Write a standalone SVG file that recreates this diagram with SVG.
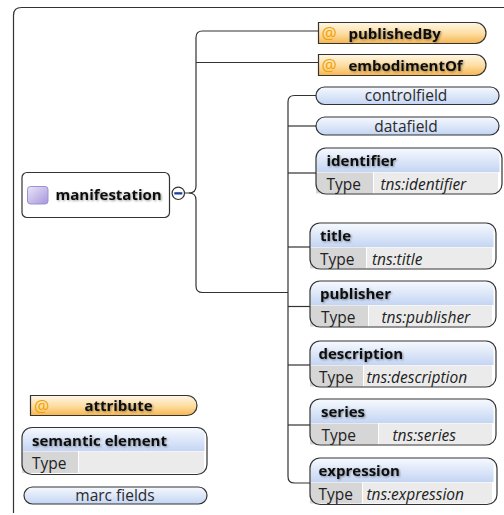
<svg xmlns="http://www.w3.org/2000/svg" width="504" height="515" viewBox="0 0 504 515">
<defs>
  <linearGradient id="gBlue" x1="0" y1="0" x2="0" y2="1">
    <stop offset="0" stop-color="#f6f9fe"/>
    <stop offset="1" stop-color="#c4d5f3"/>
  </linearGradient>
  <linearGradient id="gOr" x1="0" y1="0" x2="0" y2="1">
    <stop offset="0" stop-color="#fff7e6"/>
    <stop offset="0.55" stop-color="#fddc9e"/>
    <stop offset="1" stop-color="#f5b651"/>
  </linearGradient>
  <linearGradient id="gPur" x1="0" y1="0" x2="1" y2="1">
    <stop offset="0" stop-color="#ebe6f9"/>
    <stop offset="1" stop-color="#a595da"/>
  </linearGradient>
  <filter id="ts" x="-10%" y="-40%" width="125%" height="190%">
    <feGaussianBlur in="SourceAlpha" stdDeviation="1.1"/>
    <feOffset dx="0.8" dy="1.2"/>
    <feComponentTransfer><feFuncA type="linear" slope="0.4"/></feComponentTransfer>
    <feMerge><feMergeNode/><feMergeNode in="SourceGraphic"/></feMerge>
  </filter>
</defs>
<style>
  .ln{fill:none;stroke:#333;stroke-width:1.2}
  .bd{fill:none;stroke:#333;stroke-width:1.2}
  .hdr{fill:url(#gBlue)}
  .pill{fill:url(#gBlue);stroke:#333;stroke-width:1.2}
  .attr{fill:url(#gOr);stroke:#333;stroke-width:1.2}
  .tc{fill:#d6d6d6}
  .vc{fill:#ebebeb}
  .b{font-family:"Open Sans",sans-serif;font-weight:bold;font-size:14.5px;fill:#111;filter:url(#ts)}
  .r{font-family:"Open Sans",sans-serif;font-size:15.5px;fill:#222}
  .i{font-family:"Open Sans",sans-serif;font-size:15.5px;font-style:italic;fill:#222}
  .p{font-family:"Open Sans",sans-serif;font-size:15.5px;fill:#2a2a2a;text-anchor:middle}
  .at{font-family:"Open Sans",sans-serif;font-size:17px;fill:#f0a000}
</style>

<!-- frame -->
<path class="ln" d="M13.5,513 V15.5 Q13.5,7.5 21.5,7.5 H504"/>

<g id="connectors">
  <path class="ln" d="M184.5,193 H189 Q196,193 196,186 V37.5 Q196,31 202.5,31 H318.5"/>
  <path class="ln" d="M196,62.5 H318.5"/>
  <path class="ln" d="M189,193 Q196,193 196,200 V286 Q196,292.5 202.5,292.5 H288"/>
  <path class="ln" d="M316,95.5 H294.5 Q288,95.5 288,102 V476.5 Q288,483 294.5,483 H310"/>
  <path class="ln" d="M288,126 H316"/>
  <path class="ln" d="M288,173 H316"/>
  <path class="ln" d="M288,247 H310"/>
  <path class="ln" d="M288,306.5 H310"/>
  <path class="ln" d="M288,365 H310"/>
  <path class="ln" d="M288,425 H310"/>
</g>

<g id="manifestation">
  <rect x="22" y="172.5" width="147.5" height="45" rx="5" fill="#fff" stroke="#333" stroke-width="1.2"/>
  <rect x="27.5" y="186.5" width="20.5" height="17.5" rx="3" fill="url(#gPur)" stroke="#9d8fd6" stroke-width="1"/>
  <text class="b" x="55.5" y="199.5" style="font-size:15px">manifestation</text>
  <circle cx="178.3" cy="193.3" r="6.2" fill="#fff" stroke="#333" stroke-width="1.2"/>
  <rect x="174.3" y="192.2" width="8" height="2.3" fill="#1f3d9c"/>
</g>

<g id="publishedBy">
  <path class="attr" d="M318.5,22.5 H475.5 A10.5,10.5 0 0 1 475.5,43.5 H318.5 Z"/>
  <text class="at" x="321.5" y="39">@</text>
  <text class="b" x="348.5" y="38.5" style="font-size:15px">publishedBy</text>
</g>

<g id="embodimentOf">
  <path class="attr" d="M318.5,54.5 H475.5 A10.5,10.5 0 0 1 475.5,75.5 H318.5 Z"/>
  <text class="at" x="321.5" y="71">@</text>
  <text class="b" x="348.5" y="70.5" style="font-size:15px">embodimentOf</text>
</g>

<g id="controlfield">
  <rect class="pill" x="316" y="87" width="183" height="17.5" rx="8.5"/>
  <text class="p" x="406" y="101">controlfield</text>
</g>

<g id="datafield">
  <rect class="pill" x="316" y="117" width="183" height="18" rx="9"/>
  <text class="p" x="406" y="131.5">datafield</text>
</g>

<g id="identifier" transform="translate(316,148)">
  <rect class="hdr" x="0.5" y="0.5" width="183" height="23.5"/>
  <rect class="tc" x="0" y="24.5" width="57" height="21"/>
  <rect class="vc" x="58" y="24.5" width="124" height="21"/>
  <rect class="bd" x="0" y="0" width="186" height="46" rx="10"/>
  <text class="b" x="10.5" y="18" style="font-size:15px">identifier</text>
  <text class="r" x="10.5" y="41.5">Type</text>
  <text class="i" x="64.5" y="41.5">tns:identifier</text>
</g>

<g id="title" transform="translate(310,223)">
  <rect class="hdr" x="0.5" y="0.5" width="183" height="23.5"/>
  <rect class="tc" x="0" y="24.5" width="56" height="21"/>
  <rect class="vc" x="57" y="24.5" width="125" height="21"/>
  <rect class="bd" x="0" y="0" width="186" height="46" rx="10"/>
  <text class="b" x="10" y="18" style="font-size:15px">title</text>
  <text class="r" x="10" y="41.5">Type</text>
  <text class="i" x="62" y="41.5">tns:title</text>
</g>

<g id="publisher" transform="translate(310,281)">
  <rect class="hdr" x="0.5" y="0.5" width="183" height="23.5"/>
  <rect class="tc" x="0" y="24.5" width="58" height="21"/>
  <rect class="vc" x="59" y="24.5" width="123" height="21"/>
  <rect class="bd" x="0" y="0" width="186" height="46" rx="10"/>
  <text class="b" x="10" y="18" style="font-size:15px">publisher</text>
  <text class="r" x="11" y="41.5">Type</text>
  <text class="i" x="71.5" y="41.5">tns:publisher</text>
</g>

<g id="description" transform="translate(310,341)">
  <rect class="hdr" x="0.5" y="0.5" width="183" height="23.5"/>
  <rect class="tc" x="0" y="24.5" width="53" height="21"/>
  <rect class="vc" x="54" y="24.5" width="128" height="21"/>
  <rect class="bd" x="0" y="0" width="186" height="46" rx="10"/>
  <text class="b" x="8.5" y="18" style="font-size:15px">description</text>
  <text class="r" x="9" y="41.5">Type</text>
  <text class="i" x="56.5" y="41.5">tns:description</text>
</g>

<g id="series" transform="translate(310,399)">
  <rect class="hdr" x="0.5" y="0.5" width="183" height="23.5"/>
  <rect class="tc" x="0" y="24.5" width="68" height="21"/>
  <rect class="vc" x="69" y="24.5" width="113" height="21"/>
  <rect class="bd" x="0" y="0" width="186" height="46" rx="10"/>
  <text class="b" x="11" y="18" style="font-size:15px">series</text>
  <text class="r" x="11.5" y="41.5">Type</text>
  <text class="i" x="82.5" y="41.5">tns:series</text>
</g>

<g id="expression" transform="translate(310,458)">
  <rect class="hdr" x="0.5" y="0.5" width="183" height="23.5"/>
  <rect class="tc" x="0" y="24.5" width="52" height="21"/>
  <rect class="vc" x="53" y="24.5" width="129" height="21"/>
  <rect class="bd" x="0" y="0" width="187" height="46.5" rx="10"/>
  <text class="b" x="8.5" y="18" style="font-size:15px">expression</text>
  <text class="r" x="8.5" y="41.5">Type</text>
  <text class="i" x="56.5" y="41.5">tns:expression</text>
</g>

<g id="legend-attribute">
  <path class="attr" d="M30.5,395.5 H187 A10,10 0 0 1 187,415.5 H30.5 Z"/>
  <text class="at" x="34" y="412">@</text>
  <text class="b" x="118.5" y="410.5" style="text-anchor:middle;font-size:15px">attribute</text>
</g>

<g id="legend-element" transform="translate(22,427.5)">
  <rect class="hdr" x="0.5" y="0.5" width="182" height="23"/>
  <rect class="tc" x="0" y="24" width="56" height="21.5"/>
  <rect class="vc" x="57" y="24" width="125" height="21.5"/>
  <rect class="bd" x="0" y="0" width="185" height="47" rx="10"/>
  <text class="b" x="10" y="18" style="font-size:15px">semantic element</text>
  <text class="r" x="10" y="41.5">Type</text>
</g>

<g id="legend-marc">
  <rect class="pill" x="24" y="487" width="183" height="17" rx="8.5"/>
  <text class="p" x="115" y="501">marc fields</text>
</g>
</svg>
